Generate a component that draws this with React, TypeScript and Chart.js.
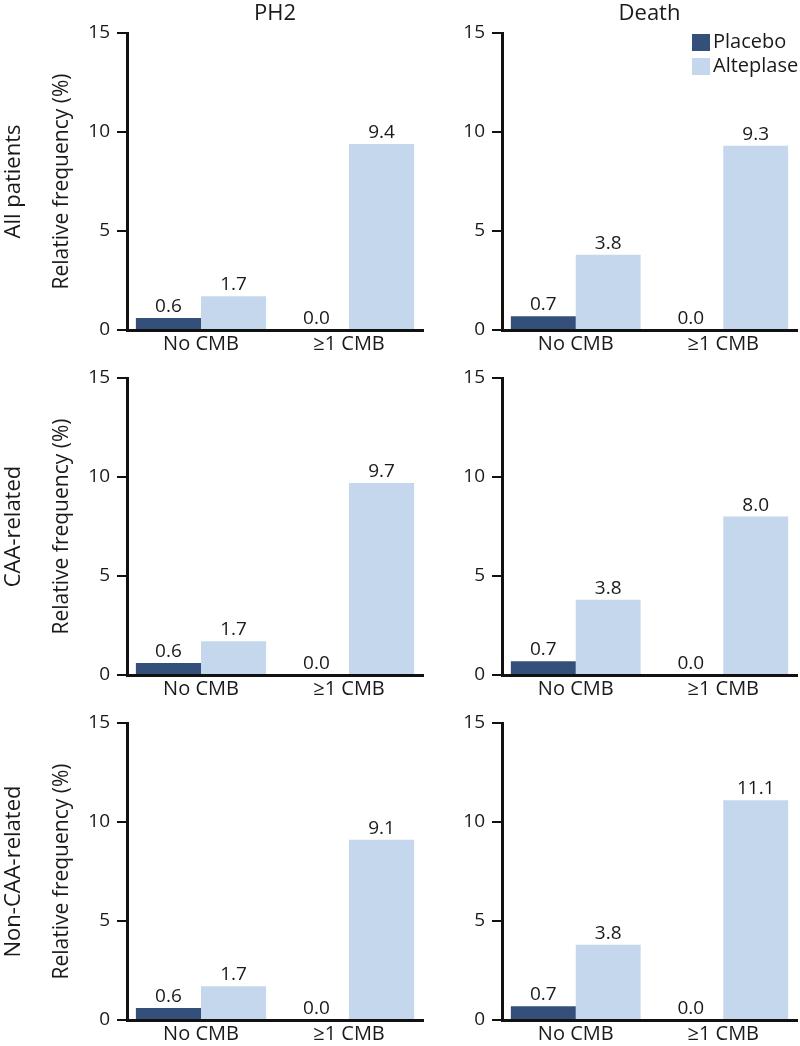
import React, { useEffect, useRef } from 'react';
import { Chart, registerables } from 'chart.js';

Chart.register(...registerables);

// ---------- data ----------
const categories = ['No CMB', '≥1 CMB'];
const columnTitles = ['PH2', 'Death'];
const rowLabels = ['All patients', 'CAA-related', 'Non-CAA-related'];
const seriesNames = ['Placebo', 'Alteplase'];
const yAxisTitle = 'Relative frequency (%)';
const yMin = 0;
const yMax = 15;
const yStep = 5;

const ph2AllPlacebo = [0.6, 0.0];
const ph2AllAlteplase = [1.7, 9.4];
const deathAllPlacebo = [0.7, 0.0];
const deathAllAlteplase = [3.8, 9.3];

const ph2CaaPlacebo = [0.6, 0.0];
const ph2CaaAlteplase = [1.7, 9.7];
const deathCaaPlacebo = [0.7, 0.0];
const deathCaaAlteplase = [3.8, 8.0];

const ph2NonCaaPlacebo = [0.6, 0.0];
const ph2NonCaaAlteplase = [1.7, 9.1];
const deathNonCaaPlacebo = [0.7, 0.0];
const deathNonCaaAlteplase = [3.8, 11.1];

// ---------- style ----------
const FONT = '"Open Sans", "Noto Sans", sans-serif';
const TEXT = '#1a1a1a';
const AXIS = '#111111';
const PLACEBO_COLOR = '#34507a';
const ALTEPLASE_COLOR = '#c5d7ec';

const ROW_STEP = 345;
const CANVAS_H = 356;
const COLS = [
  { left: 0, width: 430, axisWidth: 127, padRight: 7 },
  { left: 430, width: 370, axisWidth: 72, padRight: 3 },
];

type PanelProps = {
  row: number;
  col: number;
  placebo: number[];
  alteplase: number[];
};

function Panel({ row, col, placebo, alteplase }: PanelProps) {
  const ref = useRef<HTMLCanvasElement | null>(null);
  const c = COLS[col];

  useEffect(() => {
    if (!ref.current) return;

    const decorations = {
      id: 'decorations',
      afterDraw(chart: any) {
        const ctx = chart.ctx;
        const area = chart.chartArea;
        ctx.save();
        ctx.fillStyle = TEXT;
        // value labels
        ctx.font = `19px ${FONT}`;
        ctx.textAlign = 'center';
        ctx.textBaseline = 'alphabetic';
        chart.data.datasets.forEach((ds: any, i: number) => {
          const meta = chart.getDatasetMeta(i);
          meta.data.forEach((bar: any, j: number) => {
            const v = ds.data[j] as number;
            ctx.fillText(v.toFixed(1), bar.x, bar.y - 6);
          });
        });
        // column title
        if (row === 0) {
          ctx.font = `22px ${FONT}`;
          ctx.textAlign = 'center';
          ctx.textBaseline = 'alphabetic';
          ctx.fillText(columnTitles[col], (area.left + area.right) / 2, 20);
        }
        // row label
        if (col === 0) {
          ctx.save();
          ctx.font = `22px ${FONT}`;
          ctx.textAlign = 'center';
          ctx.textBaseline = 'middle';
          ctx.translate(14, (area.top + area.bottom) / 2);
          ctx.rotate(-Math.PI / 2);
          ctx.fillText(rowLabels[row], 0, 0);
          ctx.restore();
        }
        // legend
        if (row === 0 && col === 1) {
          const colors = [PLACEBO_COLOR, ALTEPLASE_COLOR];
          ctx.font = `20px ${FONT}`;
          ctx.textAlign = 'left';
          ctx.textBaseline = 'middle';
          seriesNames.forEach((name, i) => {
            const y = area.top + 1 + i * 24;
            ctx.fillStyle = colors[i];
            ctx.fillRect(262, y, 18, 17);
            ctx.fillStyle = TEXT;
            ctx.fillText(name, 283, y + 8.5);
          });
        }
        ctx.restore();
      },
    };

    const chart = new Chart(ref.current, {
      type: 'bar',
      data: {
        labels: categories,
        datasets: [
          {
            label: seriesNames[0],
            data: placebo,
            backgroundColor: PLACEBO_COLOR,
            borderWidth: 0,
            categoryPercentage: 0.88,
            barPercentage: 1.0,
          },
          {
            label: seriesNames[1],
            data: alteplase,
            backgroundColor: ALTEPLASE_COLOR,
            borderWidth: 0,
            categoryPercentage: 0.88,
            barPercentage: 1.0,
          },
        ],
      },
      options: {
        responsive: false,
        animation: false,
        devicePixelRatio: 1,
        layout: { padding: { top: 33, right: c.padRight, bottom: 0, left: 0 } },
        plugins: {
          legend: { display: false },
          tooltip: { enabled: false },
          title: { display: false },
        },
        scales: {
          x: {
            grid: { display: false, drawTicks: false },
            border: { display: true, color: AXIS, width: 3 },
            ticks: {
              color: TEXT,
              font: { family: FONT, size: 20 },
              padding: 2,
              maxRotation: 0,
              autoSkip: false,
            },
            afterFit: (scale: any) => {
              scale.height = CANVAS_H - 330;
            },
          },
          y: {
            min: yMin,
            max: yMax,
            grid: {
              display: true,
              drawOnChartArea: false,
              drawTicks: true,
              tickLength: 10,
              color: AXIS,
              lineWidth: 2,
            },
            border: { display: true, color: AXIS, width: 3 },
            ticks: {
              stepSize: yStep,
              color: TEXT,
              font: { family: FONT, size: 19 },
              padding: 7,
            },
            title: {
              display: col === 0,
              text: yAxisTitle,
              color: TEXT,
              font: { family: FONT, size: 21 },
              padding: { top: 49, bottom: 0 },
            },
            afterFit: (scale: any) => {
              scale.width = c.axisWidth;
            },
          },
        },
      },
      plugins: [decorations],
    });
    return () => chart.destroy();
  }, [row, col, placebo, alteplase]);

  return (
    <canvas
      ref={ref}
      width={c.width}
      height={CANVAS_H}
      style={{
        position: 'absolute',
        left: c.left,
        top: row * ROW_STEP,
        width: c.width,
        height: CANVAS_H,
      }}
    />
  );
}

export default function App() {
  useEffect(() => {
    document.body.style.margin = '0';
    document.body.style.background = '#ffffff';
  }, []);

  const panels = [
    { row: 0, col: 0, placebo: ph2AllPlacebo, alteplase: ph2AllAlteplase },
    { row: 0, col: 1, placebo: deathAllPlacebo, alteplase: deathAllAlteplase },
    { row: 1, col: 0, placebo: ph2CaaPlacebo, alteplase: ph2CaaAlteplase },
    { row: 1, col: 1, placebo: deathCaaPlacebo, alteplase: deathCaaAlteplase },
    { row: 2, col: 0, placebo: ph2NonCaaPlacebo, alteplase: ph2NonCaaAlteplase },
    { row: 2, col: 1, placebo: deathNonCaaPlacebo, alteplase: deathNonCaaAlteplase },
  ];

  return (
    <div style={{ position: 'relative', width: 800, height: 1046, background: '#fff', overflow: 'hidden' }}>
      {panels.map((p) => (
        <Panel key={`${p.row}-${p.col}`} {...p} />
      ))}
    </div>
  );
}
